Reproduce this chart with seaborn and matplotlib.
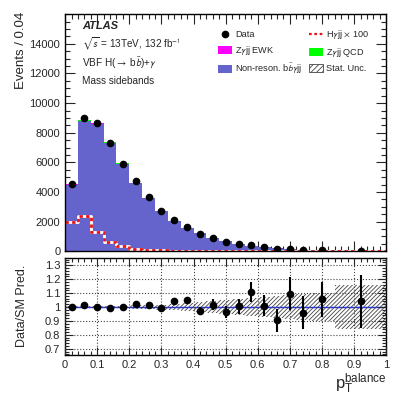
import matplotlib

matplotlib.use('Agg')
import matplotlib.pyplot as plt
import seaborn as sns
import numpy as np
import pandas as pd
from matplotlib.lines import Line2D
from matplotlib.patches import Patch
from matplotlib.ticker import MultipleLocator

sns.set_theme(style="ticks")
plt.rcParams['font.family'] = ['Liberation Sans', 'DejaVu Sans']
plt.rcParams['mathtext.fontset'] = 'stixsans'
plt.rcParams['hatch.linewidth'] = 0.6

# binning: 0.04 wide up to 0.76, then two wide bins
bin_edges = [0.00, 0.04, 0.08, 0.12, 0.16, 0.20, 0.24, 0.28, 0.32, 0.36, 0.40,
             0.44, 0.48, 0.52, 0.56, 0.60, 0.64, 0.68, 0.72, 0.76, 0.84, 1.00]
bin_centers = [0.02, 0.06, 0.10, 0.14, 0.18, 0.22, 0.26, 0.30, 0.34, 0.38, 0.42,
               0.46, 0.50, 0.54, 0.58, 0.62, 0.66, 0.70, 0.74, 0.80, 0.92]

# events / 0.04
data = [4530, 8970, 8670, 7320, 5920, 4730, 3650, 2720, 2140, 1640, 1170,
        900, 650, 495, 405, 290, 180, 130, 90, 60, 25]
# data / SM prediction
ratio = [1.000, 1.012, 1.000, 0.995, 0.998, 1.021, 1.017, 0.990, 1.040, 1.048, 0.971,
         1.017, 0.967, 1.005, 1.105, 1.010, 0.905, 1.095, 0.960, 1.055, 1.040]
ratio_err = [0.006, 0.005, 0.005, 0.006, 0.007, 0.009, 0.011, 0.014, 0.024, 0.027, 0.027,
             0.040, 0.043, 0.054, 0.071, 0.075, 0.083, 0.117, 0.120, 0.127, 0.190]
# relative MC stat. uncertainty (hatched band)
stat_unc = [0.008, 0.006, 0.006, 0.007, 0.009, 0.011, 0.014, 0.018, 0.023, 0.028, 0.034,
            0.040, 0.048, 0.056, 0.064, 0.072, 0.080, 0.088, 0.095, 0.100, 0.160]
# small components of the stack
zgjj_qcd = [20, 40, 40, 34, 28, 22, 18, 14, 10, 8, 6, 5, 3, 2, 2, 1, 1, 1, 0.5, 0.5, 0.3]
zgjj_ewk = [6, 12, 12, 10, 8, 7, 5, 4, 3, 2, 2, 1, 1, 1, 0.5, 0.5, 0.3, 0.3, 0.2, 0.1, 0.1]
# H gamma jj signal x 100
higgs_x100 = [1960, 2360, 1280, 630, 340, 180, 90, 50, 30, 20, 12, 8, 5, 4, 3, 2, 2, 1, 1, 1, 1]

BLUE = '#6464cc'
MAGENTA = '#ff00ff'
GREEN = '#00ff00'

df = pd.DataFrame({
    'x': bin_centers,
    'data': data,
    'ratio': ratio,
    'ratio_err': ratio_err,
    'stat_unc': stat_unc,
    'qcd': zgjj_qcd,
    'ewk': zgjj_ewk,
    'higgs': higgs_x100,
})
df['pred'] = df['data'] / df['ratio']
df['bkg'] = df['pred'] - df['qcd'] - df['ewk']
df['bkg_ewk'] = df['bkg'] + df['ewk']
df['data_err'] = df['ratio_err'] * df['pred']

fig = plt.figure(figsize=(4.07, 3.95), dpi=100)
ax = fig.add_axes([0.160, 0.364, 0.789, 0.600])
rax = fig.add_axes([0.160, 0.101, 0.789, 0.247])

# --- top panel: stacked prediction (drawn back to front) ---
ax.stairs(df['pred'], bin_edges, fill=True, color=GREEN, lw=0)
ax.stairs(df['bkg_ewk'], bin_edges, fill=True, color=MAGENTA, lw=0)
ax.stairs(df['bkg'], bin_edges, fill=True, color=BLUE, lw=0)

# signal x 100 (red/white dashed)
sns.histplot(data=df, x='x', weights='higgs', bins=bin_edges, element='step',
             fill=False, color='white', linewidth=2.0, ax=ax)
sns.histplot(data=df, x='x', weights='higgs', bins=bin_edges, element='step',
             fill=False, color='#ee1111', linewidth=2.0, linestyle=(0, (1.2, 1.2)), ax=ax)

ax.errorbar(df['x'], df['data'], yerr=df['data_err'], fmt='o', color='black',
            ms=4.5, lw=1.2, capsize=0, zorder=5)

ax.set_xlim(0, 1)
ax.set_ylim(0, 16000)
ax.set_xlabel('')
ax.set_ylabel('Events / 0.04', fontsize=9.5, loc='top')
ax.yaxis.set_label_coords(-0.118, 1.01)
ax.xaxis.set_major_locator(MultipleLocator(0.1))
ax.xaxis.set_minor_locator(MultipleLocator(0.02))
ax.yaxis.set_major_locator(MultipleLocator(2000))
ax.yaxis.set_minor_locator(MultipleLocator(500))
ax.tick_params(which='both', direction='in', top=True, right=True, labelbottom=False,
               labelsize=8, width=0.8)
ax.tick_params(which='major', length=7)
ax.tick_params(which='minor', length=3.5)
ax.set_yticks(range(0, 16000, 2000))
ax.set_yticklabels(['0', '2000', '4000', '6000', '8000', '10000', '12000', '14000'])

ax.text(0.053, 0.95, 'ATLAS', transform=ax.transAxes, fontsize=8,
        fontweight='bold', fontstyle='italic', va='center')
ax.text(0.053, 0.877, r'$\sqrt{\mathsf{s}}$ = 13TeV, 132 fb$^{\mathsf{-1}}$',
        transform=ax.transAxes, fontsize=7.2, va='center')
ax.text(0.053, 0.793, r'VBF H($\rightarrow$ b$\bar{\mathsf{b}}$)+$\gamma$',
        transform=ax.transAxes, fontsize=7.2, va='center')
ax.text(0.053, 0.72, 'Mass sidebands', transform=ax.transAxes, fontsize=7.2, va='center')

handles = [
    Line2D([], [], marker='o', color='black', ls='none', ms=4.5),
    Patch(facecolor=MAGENTA, edgecolor='none'),
    Patch(facecolor=BLUE, edgecolor='none'),
    Line2D([], [], color='#ee1111', lw=1.6, ls=(0, (1.2, 1.2))),
    Patch(facecolor=GREEN, edgecolor='none'),
    Patch(facecolor='white', edgecolor='#444444', hatch='//////', lw=0.6),
]
labels = ['Data', r'Z$\gamma$jj EWK', r'Non-reson. b$\bar{\mathsf{b}}\gamma$jj',
          r'H$\gamma$jj $\times$ 100', r'Z$\gamma$jj QCD', 'Stat. Unc.']
ax.legend(handles, labels, ncol=2, loc='upper left', bbox_to_anchor=(0.477, 0.94),
          frameon=False, fontsize=6.6, handlelength=1.5, handleheight=1.05,
          labelspacing=0.5, columnspacing=0.7, handletextpad=0.35,
          borderpad=0, borderaxespad=0)

# --- bottom panel: ratio ---
widths = np.diff(bin_edges)
rax.bar(bin_edges[:-1], 2 * df['stat_unc'], bottom=1 - df['stat_unc'], width=widths,
        align='edge', fill=False, hatch='////////', edgecolor='#444444', linewidth=0)
rax.axhline(1.0, color='#2233ff', lw=1.0)
rax.errorbar(df['x'], df['ratio'], yerr=df['ratio_err'], fmt='o', color='black',
             ms=4.5, lw=1.5, capsize=0, zorder=5)

rax.set_xlim(0, 1)
rax.set_ylim(0.655, 1.355)
rax.xaxis.set_major_locator(MultipleLocator(0.1))
rax.xaxis.set_minor_locator(MultipleLocator(0.02))
rax.yaxis.set_major_locator(MultipleLocator(0.1))
rax.yaxis.set_minor_locator(MultipleLocator(0.02))
rax.set_xticks([0, 0.1, 0.2, 0.3, 0.4, 0.5, 0.6, 0.7, 0.8, 0.9, 1.0])
rax.set_xticklabels(['0', '0.1', '0.2', '0.3', '0.4', '0.5', '0.6', '0.7', '0.8', '0.9', '1'])
rax.set_yticks([0.7, 0.8, 0.9, 1.0, 1.1, 1.2, 1.3])
rax.set_yticklabels(['0.7', '0.8', '0.9', '1', '1.1', '1.2', '1.3'])
rax.tick_params(which='both', direction='in', top=True, right=True, labelsize=8, width=0.8)
rax.tick_params(which='major', length=6)
rax.tick_params(which='minor', length=3)
rax.grid(True, which='major', ls=':', color='#444444', lw=0.8)
rax.set_axisbelow(False)
rax.set_ylabel('Data/SM Pred.', fontsize=9)
rax.yaxis.set_label_coords(-0.115, 0.5)
rax.set_xlabel(r'$\mathregular{p_{T}^{balance}}$', fontsize=12, loc='right', labelpad=1)

for a in (ax, rax):
    for s in a.spines.values():
        s.set_linewidth(1.0)
        s.set_color('black')

fig.savefig('out.png', dpi=100)
